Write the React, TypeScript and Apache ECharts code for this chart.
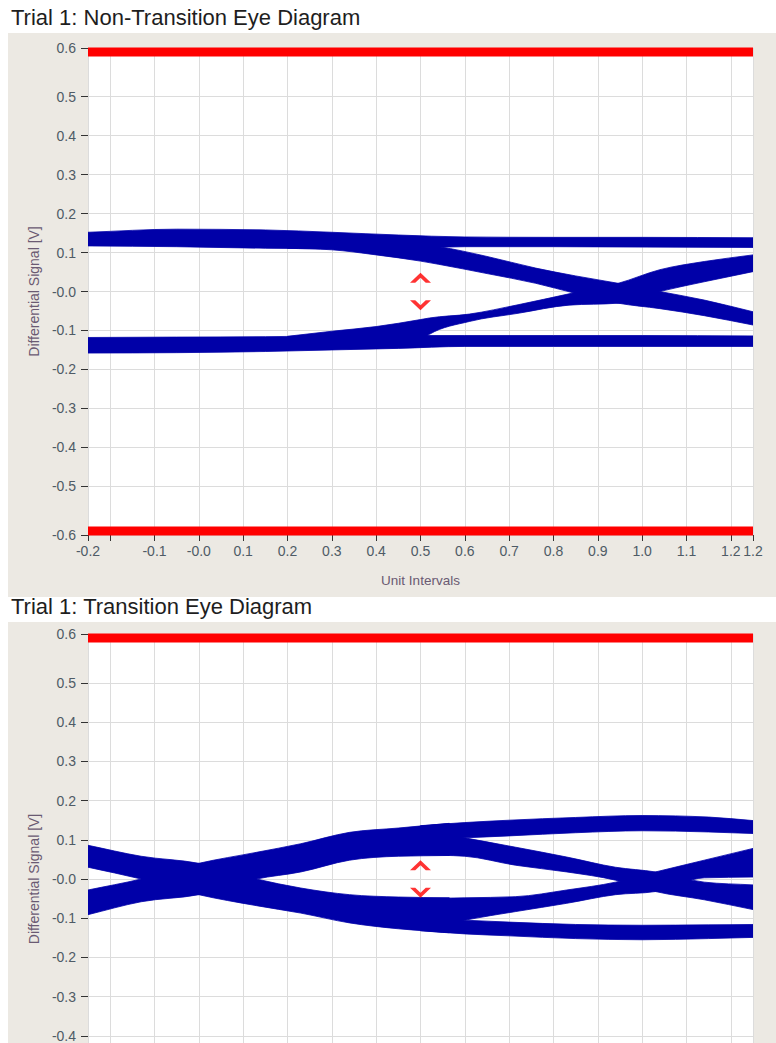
import React, { useEffect, useRef } from "react";
import * as echarts from "echarts";

// ---------- axis settings ----------
const X_MIN = -0.25;
const X_MAX = 1.25;
const Y_MIN = -0.625;
const Y_MAX = 0.625;
const Y_TICKS = [-0.625, -0.5, -0.4, -0.3, -0.2, -0.1, 0, 0.1, 0.2, 0.3, 0.4, 0.5, 0.625];

const TITLE_TOP = "Trial 1: Non-Transition Eye Diagram";
const TITLE_BOTTOM = "Trial 1: Transition Eye Diagram";
const X_NAME = "Unit Intervals";
const Y_NAME = "Differential Signal [V]";

// ---------- red mask limits ----------
const MASK_X = [-0.25, 1.25];
const MASK_HIGH = 0.615;
const MASK_LOW = -0.615;

// ---------- eye-opening markers ----------
const MARK_X = 0.5;
const MARK_UP = 0.035;
const MARK_DOWN = -0.035;

// ---------- Non-transition eye: band edges ----------
const ntUpperRailX = [-0.25, -0.05, 0.15, 0.3, 0.45, 0.6, 0.8, 1.0, 1.25];
const ntUpperRailTop = [0.152, 0.16, 0.158, 0.152, 0.145, 0.14, 0.139, 0.139, 0.138];
const ntUpperRailBot = [0.117, 0.115, 0.111, 0.11, 0.11, 0.115, 0.115, 0.114, 0.113];

const ntFallX = [0.2, 0.3, 0.4, 0.5, 0.54, 0.65, 0.76, 0.85, 0.946, 1.04, 1.14, 1.25];
const ntFallTop = [0.13, 0.13, 0.125, 0.12, 0.115, 0.09, 0.06, 0.04, 0.021, 0.0, -0.022, -0.052];
const ntFallBot = [0.111, 0.107, 0.094, 0.078, 0.07, 0.046, 0.021, -0.005, -0.03, -0.044, -0.062, -0.086];

const ntRiseX = [0.2, 0.3, 0.4, 0.5, 0.52, 0.61, 0.72, 0.835, 0.946, 1.04, 1.14, 1.25];
const ntRiseTop = [-0.115, -0.102, -0.09, -0.072, -0.068, -0.058, -0.034, -0.006, 0.021, 0.056, 0.077, 0.094];
const ntRiseBot = [-0.13, -0.13, -0.13, -0.125, -0.11, -0.077, -0.056, -0.035, -0.03, 0.0, 0.025, 0.051];

const ntLowerRailX = [-0.25, -0.05, 0.15, 0.3, 0.45, 0.6, 0.8, 1.0, 1.25];
const ntLowerRailTop = [-0.118, -0.117, -0.116, -0.114, -0.113, -0.113, -0.113, -0.113, -0.114];
const ntLowerRailBot = [-0.158, -0.157, -0.154, -0.15, -0.146, -0.141, -0.141, -0.141, -0.141];

// ---------- Transition eye: band edges ----------
const trAX = [-0.25, -0.13, 0, 0.13, 0.23, 0.34, 0.45, 0.565];
const trATop = [0.086, 0.058, 0.04, 0.0, -0.023, -0.04, -0.046, -0.048];
const trABot = [0.03, 0.0, -0.04, -0.068, -0.087, -0.112, -0.127, -0.137];

const trBX = [-0.25, -0.13, 0, 0.13, 0.23, 0.34, 0.45, 0.565];
const trBTop = [-0.028, 0.0, 0.04, 0.068, 0.09, 0.119, 0.13, 0.142];
const trBBot = [-0.091, -0.058, -0.04, 0.0, 0.018, 0.048, 0.058, 0.06];

const trTopRailX = [0.5, 0.6, 0.7, 0.85, 1.0, 1.15, 1.25];
const trTopRailTop = [0.136, 0.144, 0.15, 0.157, 0.162, 0.158, 0.149];
const trTopRailBot = [0.1, 0.105, 0.11, 0.118, 0.123, 0.12, 0.116];

const trFallX = [0.5, 0.6, 0.715, 0.83, 0.94, 1.03, 1.14, 1.25];
const trFallTop = [0.125, 0.105, 0.081, 0.056, 0.03, 0.018, -0.008, -0.015];
const trFallBot = [0.062, 0.058, 0.035, 0.018, -0.003, -0.032, -0.053, -0.078];

const trRiseX = [0.5, 0.6, 0.715, 0.83, 0.94, 1.03, 1.14, 1.25];
const trRiseTop = [-0.05, -0.048, -0.045, -0.028, -0.008, 0.018, 0.048, 0.078];
const trRiseBot = [-0.13, -0.105, -0.083, -0.062, -0.04, -0.032, 0.003, 0.005];

const trBotRailX = [0.5, 0.6, 0.7, 0.85, 1.0, 1.15, 1.25];
const trBotRailTop = [-0.1, -0.105, -0.11, -0.116, -0.118, -0.117, -0.116];
const trBotRailBot = [-0.132, -0.14, -0.145, -0.152, -0.155, -0.152, -0.149];

type Band = { x: number[]; top: number[]; bot: number[] };

const ntBands: Band[] = [
  { x: ntUpperRailX, top: ntUpperRailTop, bot: ntUpperRailBot },
  { x: ntFallX, top: ntFallTop, bot: ntFallBot },
  { x: ntRiseX, top: ntRiseTop, bot: ntRiseBot },
  { x: ntLowerRailX, top: ntLowerRailTop, bot: ntLowerRailBot },
];

const trBands: Band[] = [
  { x: trAX, top: trATop, bot: trABot },
  { x: trBX, top: trBTop, bot: trBBot },
  { x: trTopRailX, top: trTopRailTop, bot: trTopRailBot },
  { x: trFallX, top: trFallTop, bot: trFallBot },
  { x: trRiseX, top: trRiseTop, bot: trRiseBot },
  { x: trBotRailX, top: trBotRailTop, bot: trBotRailBot },
];

const BLUE = "#0000a8";
const RED = "#ff0000";
const PANEL = "#ece9e3";
const GRID_LINE = "#dcdcdc";
const LABEL = "#4f5b66";
const NAME_COLOR = "#6a5a72";
const FONT = "'Liberation Sans', Arial, sans-serif";

const CHEVRON_UP = "path://M0,10 L11,0 L22,10 L16.5,10 L11,5 L5.5,10 Z";
const CHEVRON_DOWN = "path://M0,0 L11,10 L22,0 L16.5,0 L11,5 L5.5,0 Z";

const near = (a: number, b: number) => Math.abs(a - b) < 1e-6;

function xLabel(v: number): string {
  if (v <= X_MIN + 1e-6) return "-0.2";
  if (v >= X_MAX - 1e-6) return "1.2";
  if (near(v, -0.2)) return "";
  if (near(v, 0)) return "-0.0";
  return v.toFixed(1);
}

function yLabel(v: number): string {
  if (v >= Y_MAX - 1e-6) return "0.6";
  if (v <= Y_MIN + 1e-6) return "-0.6";
  if (near(Math.abs(v), 0.6)) return "";
  if (near(v, 0)) return "-0.0";
  return v.toFixed(1);
}

// the lower half of the second panel falls below the page, as in the reference
function yLabelBottom(v: number): string {
  if (v < -0.45) return "";
  return yLabel(v);
}

// monotone (no overshoot) tangents of a pixel polyline, sorted by x
function tangents(p: number[][]): number[] {
  const n = p.length;
  const t = new Array(n).fill(0);
  if (n < 2) return t;
  const s: number[] = [];
  for (let i = 0; i < n - 1; i++) s.push((p[i + 1][1] - p[i][1]) / (p[i + 1][0] - p[i][0]));
  t[0] = s[0];
  t[n - 1] = s[n - 2];
  for (let i = 1; i < n - 1; i++) {
    const s0 = s[i - 1];
    const s1 = s[i];
    if (s0 * s1 <= 0) {
      t[i] = 0;
      continue;
    }
    const h0 = p[i][0] - p[i - 1][0];
    const h1 = p[i + 1][0] - p[i][0];
    const pp = (s0 * h1 + s1 * h0) / (h0 + h1);
    t[i] = Math.sign(s0) * Math.min(2 * Math.abs(s0), 2 * Math.abs(s1), Math.abs(pp));
  }
  return t;
}

function bandPath(P: number[][], Q: number[][]): string {
  const tp = tangents(P);
  const tq = tangents(Q);
  const f = (v: number) => v.toFixed(2);
  let d = `M${f(P[0][0])},${f(P[0][1])}`;
  for (let i = 0; i < P.length - 1; i++) {
    const h = (P[i + 1][0] - P[i][0]) / 3;
    d += ` C${f(P[i][0] + h)},${f(P[i][1] + tp[i] * h)} ${f(P[i + 1][0] - h)},${f(P[i + 1][1] - tp[i + 1] * h)} ${f(P[i + 1][0])},${f(P[i + 1][1])}`;
  }
  const m = Q.length - 1;
  d += ` L${f(Q[m][0])},${f(Q[m][1])}`;
  for (let i = m; i > 0; i--) {
    const h = (Q[i][0] - Q[i - 1][0]) / 3;
    d += ` C${f(Q[i][0] - h)},${f(Q[i][1] - tq[i] * h)} ${f(Q[i - 1][0] + h)},${f(Q[i - 1][1] + tq[i - 1] * h)} ${f(Q[i - 1][0])},${f(Q[i - 1][1])}`;
  }
  return d + " Z";
}

function bandSeries(bands: Band[], idx: number) {
  return {
    type: "custom",
    xAxisIndex: idx,
    yAxisIndex: idx,
    clip: true,
    silent: true,
    data: bands.map((b, i) => [b.x[0], i * 0.01]),
    renderItem: (params: any, api: any) => {
      const b = bands[params.dataIndex];
      const P = b.x.map((x, i) => api.coord([x, b.top[i]]));
      const Q = b.x.map((x, i) => api.coord([x, b.bot[i]]));
      return {
        type: "path",
        shape: { pathData: bandPath(P, Q) },
        style: { fill: BLUE, stroke: BLUE, lineWidth: 0.8 },
      };
    },
    z: 3,
  };
}

function maskSeries(idx: number, y: number) {
  return {
    type: "line",
    xAxisIndex: idx,
    yAxisIndex: idx,
    data: MASK_X.map((x) => [x, y]),
    symbol: "none",
    lineStyle: { color: RED, width: 9 },
    clip: false,
    silent: true,
    z: 4,
  };
}

function markerSeries(idx: number) {
  return [
    {
      type: "scatter",
      xAxisIndex: idx,
      yAxisIndex: idx,
      data: [[MARK_X, MARK_UP]],
      symbol: CHEVRON_UP,
      symbolSize: [21, 10],
      itemStyle: { color: RED },
      silent: true,
      z: 5,
    },
    {
      type: "scatter",
      xAxisIndex: idx,
      yAxisIndex: idx,
      data: [[MARK_X, MARK_DOWN]],
      symbol: CHEVRON_DOWN,
      symbolSize: [21, 10],
      itemStyle: { color: RED },
      silent: true,
      z: 5,
    },
  ];
}

function xAxis(idx: number, showText: boolean) {
  return {
    gridIndex: idx,
    type: "value",
    min: X_MIN,
    max: X_MAX,
    splitNumber: 14,
    axisLine: { show: false, onZero: false },
    axisTick: { show: showText, length: 6, lineStyle: { color: "#333" } },
    axisLabel: {
      show: showText,
      formatter: xLabel,
      color: LABEL,
      fontSize: 14,
      fontFamily: FONT,
      margin: 9,
      showMinLabel: true,
      showMaxLabel: true,
    },
    splitLine: { show: true, lineStyle: { color: GRID_LINE, width: 1 } },
    name: showText ? X_NAME : "",
    nameLocation: "middle",
    nameGap: 38,
    nameTextStyle: { color: NAME_COLOR, fontSize: 13.5, fontFamily: FONT },
  };
}

function yAxis(idx: number, fmt: (v: number) => string) {
  return {
    gridIndex: idx,
    type: "value",
    min: Y_MIN,
    max: Y_MAX,
    splitNumber: 12,
    axisLine: { show: false, onZero: false },
    axisTick: { show: true, length: 7, lineStyle: { color: "#333" }, customValues: Y_TICKS },
    axisLabel: {
      formatter: fmt,
      customValues: Y_TICKS,
      color: LABEL,
      fontSize: 14,
      fontFamily: FONT,
      margin: 12,
      showMinLabel: true,
      showMaxLabel: true,
    },
    splitLine: { show: true, lineStyle: { color: GRID_LINE, width: 1 } },
    name: Y_NAME,
    nameLocation: "middle",
    nameGap: 46,
    nameTextStyle: { color: NAME_COLOR, fontSize: 14, fontFamily: FONT },
  };
}

export default function App() {
  const ref = useRef<HTMLDivElement>(null);

  useEffect(() => {
    if (!ref.current) return;
    const chart = echarts.init(ref.current, null, { renderer: "svg" });
    chart.setOption({
      animation: false,
      backgroundColor: "#ffffff",
      graphic: [
        { type: "rect", shape: { x: 8, y: 33, width: 768, height: 564 }, style: { fill: PANEL }, z: -10, silent: true },
        { type: "rect", shape: { x: 8, y: 622, width: 768, height: 560 }, style: { fill: PANEL }, z: -10, silent: true },
        {
          type: "text",
          x: 11,
          y: 28,
          style: { text: TITLE_TOP, fill: "#1e1e1e", fontSize: 22, fontFamily: FONT, verticalAlign: "bottom" },
          silent: true,
        },
        {
          type: "text",
          x: 11,
          y: 617,
          style: { text: TITLE_BOTTOM, fill: "#1e1e1e", fontSize: 22, fontFamily: FONT, verticalAlign: "bottom" },
          silent: true,
        },
      ],
      grid: [
        { left: 88, top: 48, width: 665, height: 487, show: true, backgroundColor: "#ffffff", borderWidth: 0 },
        { left: 88, top: 634, width: 665, height: 490, show: true, backgroundColor: "#ffffff", borderWidth: 0 },
      ],
      xAxis: [xAxis(0, true), xAxis(1, false)],
      yAxis: [yAxis(0, yLabel), yAxis(1, yLabelBottom)],
      series: [
        bandSeries(ntBands, 0),
        maskSeries(0, MASK_HIGH),
        maskSeries(0, MASK_LOW),
        ...markerSeries(0),
        bandSeries(trBands, 1),
        maskSeries(1, MASK_HIGH),
        maskSeries(1, MASK_LOW),
        ...markerSeries(1),
      ],
    });
    return () => chart.dispose();
  }, []);

  return (
    <div style={{ position: "fixed", left: 0, top: 0, width: 776, height: 1043, overflow: "hidden", background: "#fff" }}>
      <div ref={ref} style={{ width: 776, height: 1180 }} />
    </div>
  );
}
